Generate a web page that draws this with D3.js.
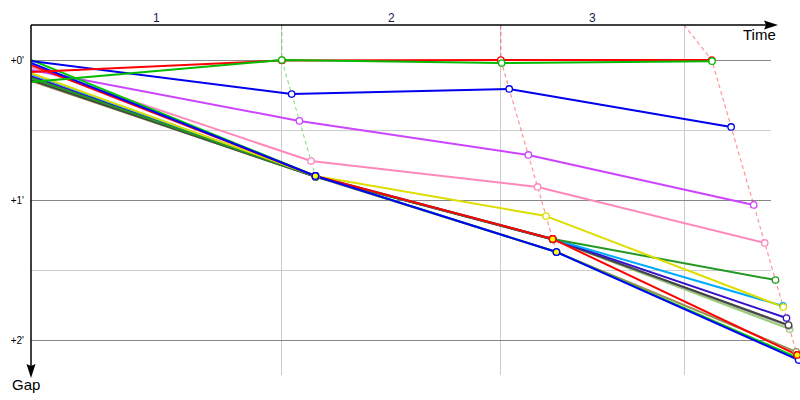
<!DOCTYPE html>
<html><head><meta charset="utf-8">
<script src="https://cdn.jsdelivr.net/npm/d3@7"></script>
<style>body{margin:0;background:#fff}svg{display:block;font-family:"Liberation Sans",Arial,sans-serif}</style>
</head><body><svg id="c" width="800" height="400"></svg>
<script>
// ---- data ----
const lapLabels = ["1", "2", "3"];
const lapMarkTimes = [371, 695, 966];          // lap separator times (s)
const leaderTimes = [0, 371, 695, 1007];       // leader crossing time at start, lap1..3 (s)
const gapTicks = [0, 60, 120];
const gapTickLabels = ["+0'", "+1'", "+2'"];
const halfGapTicks = [30, 90];
const driverColors = [
  "#9a8f55", "#99cc77", "#999999", "#444444", "#3311cc", "#00aaff", "#229922",
  "#dddd00", "#ff88bb", "#cc44ff", "#00cc00", "#ff0000", "#0000ff", "#0000ee",
  "#ff0000", "#00bb00"
];
// gap (s) at start, lap 1, lap 2, lap 3
const driverGaps = [
  [9.0, 50.1, 82.3, 125.1],
  [8.1, 50.1, 76.9, 115.3],
  [7.3, 49.9, 76.9, 114.0],
  [8.6, 50.1, 76.9, 113.6],
  [6.9, 49.9, 76.7, 110.6],
  [6.0, 49.7, 76.7, 105.4],
  [7.7, 49.9, 76.7, 94.3],
  [5.6, 49.7, 66.9, 105.9],
  [3.0, 43.3, 54.4, 78.4],
  [4.3, 26.1, 40.7, 62.1],
  [0.0, 49.7, 82.3, 127.7],
  [2.1, 49.7, 76.7, 126.4],
  [1.3, 49.7, 82.3, 128.6],
  [0.4, 14.6, 12.4, 28.7],
  [5.1, 0.2, 0.0, 0.0],
  [9.4, 0.0, 1.3, 0.5]
];
// markers drawn as "group" markers: [lap, driver]
const groupMarks = [[1, 12], [2, 11], [2, 12], [3, 11]];

// ---- scales ----
const svg = d3.select("#c");
const x = d3.scaleLinear().domain([0, 1000]).range([31, 707]);
const y = d3.scaleLinear().domain([0, 120]).range([60, 340]);
const xL = 31, xR = 771, yTop = 25, yBot = 375;

function pt(d, k) {
  const g = driverGaps[d][k];
  return [x(leaderTimes[k] + (k > 0 ? g : 0)), y(g)];
}

svg.append("defs").append("clipPath").attr("id", "clip")
  .append("rect").attr("x", 31.5).attr("y", 0).attr("width", 770).attr("height", 400);

// grid
const grid = svg.append("g").attr("shape-rendering", "crispEdges");
grid.selectAll(".hg").data(halfGapTicks).join("line")
  .attr("x1", xL).attr("x2", xR).attr("y1", d => y(d)).attr("y2", d => y(d))
  .attr("stroke", "#cccccc");
grid.selectAll(".vg").data(lapMarkTimes).join("line")
  .attr("x1", d => x(d)).attr("x2", d => x(d)).attr("y1", yTop).attr("y2", yBot)
  .attr("stroke", "#cccccc");

const yAxis = d3.axisLeft(y).tickValues(gapTicks)
  .tickFormat((d, i) => gapTickLabels[i]).tickSize(-(xR - xL)).tickPadding(7);
const ya = svg.append("g").attr("transform", `translate(${xL},0)`).call(yAxis);
ya.select(".domain").remove();
ya.selectAll(".tick line").attr("stroke", "#888888").attr("shape-rendering", "crispEdges");
ya.selectAll(".tick text").attr("font-size", 10).attr("fill", "#000")
  .attr("font-family", '"Liberation Sans",Arial,sans-serif');

// lap labels
const bounds = [0, ...lapMarkTimes];
svg.selectAll(".lapl").data(lapLabels).join("text")
  .attr("x", (d, i) => (x(bounds[i]) + x(bounds[i + 1])) / 2)
  .attr("y", 22).attr("text-anchor", "middle").attr("font-size", 12)
  .attr("fill", "#1a1a48").text(d => d);

const plot = svg.append("g").attr("clip-path", "url(#clip)");

// dashed lap lines
for (let k = 1; k <= 3; k++) {
  const idx = d3.range(driverGaps.length);
  const leader = d3.least(idx, d => driverGaps[d][k]);
  const last = d3.greatest(idx, d => driverGaps[d][k]);
  const pts = [[x(lapMarkTimes[k - 1]), yTop], pt(leader, k), pt(last, k)];
  plot.append("path").attr("d", d3.line()(pts)).attr("fill", "none")
    .attr("stroke", driverColors[leader]).attr("stroke-opacity", 0.42)
    .attr("stroke-width", 1.2).attr("stroke-dasharray", "4,3");
}

// driver lines
const line = d3.line();
plot.selectAll(".drv").data(driverGaps).join("path")
  .attr("d", (g, d) => line(g.map((v, k) => pt(d, k))))
  .attr("fill", "none").attr("stroke", (g, d) => driverColors[d])
  .attr("stroke-width", 2).attr("stroke-linejoin", "round");

// markers (lap ends only)
const marks = [];
driverGaps.forEach((g, d) => g.forEach((v, k) => { if (k > 0) marks.push({d, k}); }));
plot.selectAll(".mk").data(marks).join("circle")
  .attr("cx", m => pt(m.d, m.k)[0]).attr("cy", m => pt(m.d, m.k)[1])
  .attr("r", 3.2).attr("fill", "#fff")
  .attr("stroke", m => driverColors[m.d]).attr("stroke-width", 1.3);
plot.selectAll(".gm").data(groupMarks).join("circle")
  .attr("cx", m => pt(m[1], m[0])[0]).attr("cy", m => pt(m[1], m[0])[1])
  .attr("r", 3.2).attr("fill", "#ffff00")
  .attr("stroke", m => driverColors[m[1]]).attr("stroke-width", 1.3);

// axes with arrows
svg.append("line").attr("x1", xL).attr("x2", 766).attr("y1", yTop).attr("y2", yTop)
  .attr("stroke", "#000").attr("stroke-width", 1.5);
svg.append("path").attr("d", "M778,25 L764,20.5 L766,25 L764,29.5 Z").attr("fill", "#000");
svg.append("line").attr("x1", xL).attr("x2", xL).attr("y1", yTop).attr("y2", 367)
  .attr("stroke", "#000").attr("stroke-width", 1.5);
svg.append("path").attr("d", "M31,378 L26.5,364 L31,366 L35.5,364 Z").attr("fill", "#000");

svg.append("text").attr("x", 743).attr("y", 40).attr("font-size", 15).text("Time");
svg.append("text").attr("x", 12).attr("y", 390).attr("font-size", 15).text("Gap");
</script></body></html>
